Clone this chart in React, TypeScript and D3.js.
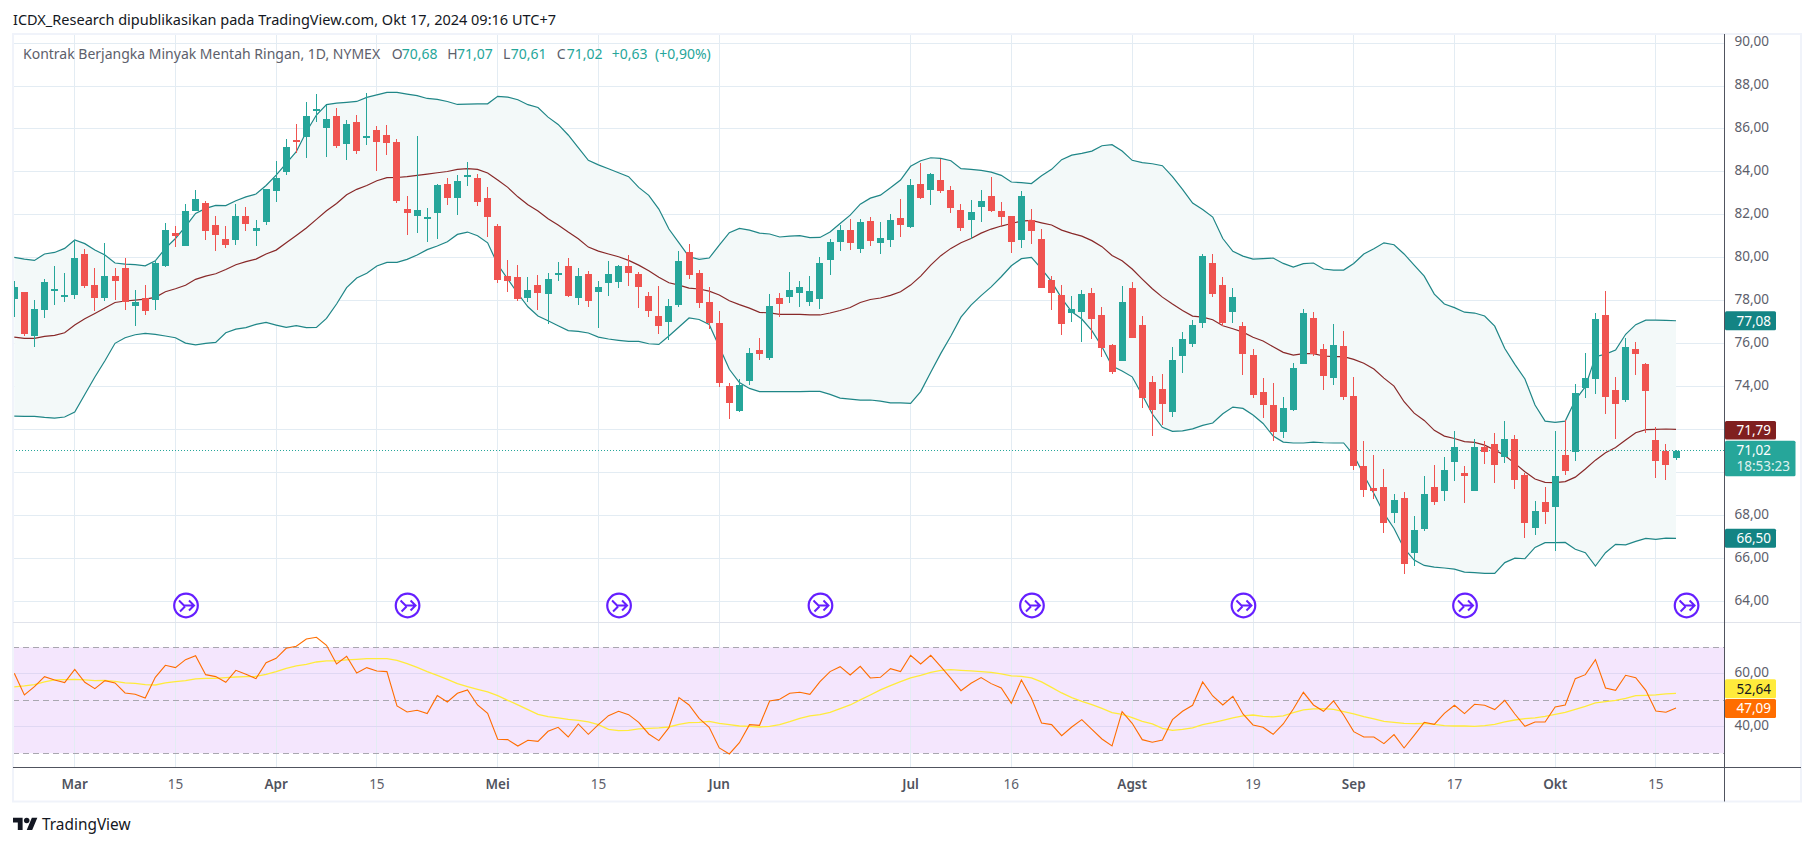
// Crude oil daily candles with Bollinger bands and an RSI pane, TradingView style.
import { useEffect, useRef } from "react";
import * as d3 from "d3";

const opens = [78.09,78.41,76.36,77.57,78.45,78.17,78.27,80.18,78.74,78.13,79.15,79.52,77.75,78.13,78.03,79.62,81.15,80.55,82.18,82.55,81.53,80.87,80.83,81.95,81.25,81.66,83.11,83.99,85.48,85.62,86.83,86.04,86.60,85.30,86.32,85.58,85.95,85.72,85.39,82.27,81.94,81.80,82.08,83.43,82.78,83.81,83.71,82.78,81.48,79.15,79.10,78.13,78.73,78.31,79.24,79.62,78.13,79.24,78.41,78.83,78.87,79.62,79.24,78.22,77.29,77.01,77.80,80.27,79.29,77.94,76.96,74.03,72.87,74.26,75.71,75.33,78.13,78.17,78.36,77.94,78.08,79.90,80.73,81.29,80.41,81.71,80.69,80.83,81.85,81.43,83.43,83.15,83.62,83.15,82.22,81.76,82.36,82.88,82.18,81.94,80.83,81.76,80.87,78.96,78.27,77.43,77.47,78.36,77.33,75.94,75.19,78.59,76.87,74.22,73.89,72.82,75.43,75.99,76.96,79.76,78.73,77.47,76.82,75.47,73.75,73.15,71.89,72.91,75.05,77.20,75.75,74.40,75.89,73.56,70.31,69.28,69.33,68.12,68.82,66.26,67.37,69.33,69.14,70.49,69.98,69.14,71.19,71.33,70.72,71.56,69.89,67.42,68.63,68.40,70.82,70.96,73.94,74.36,77.33,73.84,73.38,75.75,75.05,71.52,71.00,70.68];
const highs = [78.92,78.41,78.03,79.00,79.62,79.30,80.83,80.41,79.52,80.69,79.52,79.99,78.50,78.74,79.90,81.60,81.48,82.50,83.15,82.64,81.95,81.48,82.50,82.36,81.76,83.20,84.50,85.53,86.23,87.25,87.62,87.11,86.97,86.41,86.65,87.67,86.13,86.18,85.53,82.88,85.67,82.32,83.43,83.71,83.85,84.46,83.90,83.29,81.57,79.90,79.66,79.10,79.20,79.29,79.80,79.99,79.52,79.38,78.92,79.85,79.66,80.13,79.34,78.41,78.69,78.08,80.31,80.64,79.43,78.64,77.52,74.17,74.36,75.80,76.26,78.31,78.36,79.34,78.92,79.15,80.04,80.87,81.53,81.80,81.80,81.90,81.66,82.04,82.74,83.67,84.41,83.95,84.60,83.34,82.50,82.69,83.15,83.76,82.60,81.94,83.11,82.27,81.34,79.15,78.73,78.22,78.50,78.59,77.71,75.99,78.69,78.87,77.29,74.50,74.59,75.85,76.54,77.10,80.18,80.18,79.10,78.59,77.01,75.75,74.40,74.17,73.52,75.10,77.61,77.47,75.99,76.92,76.59,74.45,71.47,70.82,70.17,69.00,69.09,67.98,69.84,70.35,70.72,71.94,70.31,71.56,71.47,71.84,72.40,71.75,69.98,68.68,69.33,71.94,72.45,74.12,75.57,77.43,78.45,74.45,76.26,76.08,75.10,72.12,71.33,71.07];
const lows = [77.25,76.36,75.86,77.21,77.82,77.96,78.09,78.61,77.54,78.00,78.03,77.57,76.82,77.33,77.57,79.57,80.50,80.55,82.18,80.83,80.31,80.45,80.59,81.25,80.55,81.53,82.60,83.85,84.88,84.64,86.32,84.69,85.11,84.55,84.83,85.25,84.04,84.78,82.55,81.06,81.15,80.73,80.87,82.46,81.99,83.34,82.41,80.97,78.83,78.41,77.99,77.94,77.57,76.92,78.92,78.17,77.80,77.71,76.73,78.22,78.59,78.69,77.66,77.24,76.45,76.17,77.71,79.01,77.66,76.68,73.98,72.49,72.82,74.08,75.24,75.24,77.24,77.89,77.71,77.75,77.61,79.20,80.31,80.36,80.22,80.55,80.18,80.50,80.97,81.39,82.74,82.46,83.01,82.08,81.25,80.87,81.66,82.13,81.48,80.22,80.45,80.64,78.59,77.57,76.40,77.01,76.08,76.22,75.38,74.59,75.19,76.26,73.01,71.70,72.21,72.59,74.64,75.85,76.73,78.17,76.82,76.96,74.54,73.47,72.54,71.47,71.61,72.87,75.05,75.43,73.84,74.08,73.38,70.12,68.86,68.77,67.19,67.65,65.28,65.65,67.28,68.49,68.68,69.61,68.58,69.14,70.40,69.51,70.45,69.23,66.95,67.09,67.60,66.35,69.89,70.54,73.47,73.66,72.73,71.56,73.29,74.54,71.84,69.75,69.65,70.61];
const closes = [78.64,76.45,77.61,78.87,78.55,78.27,79.99,78.69,78.13,79.15,78.92,77.94,77.94,77.52,79.76,81.29,81.01,82.18,82.74,81.25,81.06,80.59,81.95,81.57,81.39,83.20,83.71,85.16,85.44,86.60,86.93,86.46,85.20,86.23,84.97,85.67,85.39,85.34,82.64,82.08,82.22,81.90,83.39,82.78,83.57,83.85,82.60,81.90,78.96,78.92,78.08,78.50,78.36,79.01,79.29,78.22,79.15,77.99,78.64,79.24,79.62,79.29,78.64,77.52,76.82,77.75,79.85,79.20,77.89,76.96,74.17,73.24,74.08,75.57,75.52,77.75,77.85,78.50,78.64,78.45,79.76,80.73,81.29,80.69,81.66,80.78,80.92,81.76,81.53,83.39,82.78,83.90,83.11,82.32,81.39,82.13,82.64,82.18,81.90,80.73,82.88,81.25,78.59,78.36,76.92,77.61,78.31,77.15,75.80,74.68,77.94,76.26,73.47,72.91,73.19,75.24,76.22,76.87,80.08,78.31,76.96,78.17,75.52,73.61,73.15,71.89,73.01,74.87,77.43,75.52,74.50,75.94,73.52,70.31,69.19,69.14,67.65,68.72,65.74,67.33,69.00,68.63,70.12,71.19,69.84,71.19,70.96,70.35,71.56,69.65,67.65,68.21,68.16,69.84,70.07,73.70,74.40,77.15,73.52,73.19,75.85,75.52,73.80,70.54,70.35,71.02];

const bbUpper = [80.02,79.94,79.88,80.18,80.25,80.44,80.83,80.66,80.36,80.13,79.76,79.71,79.68,79.63,79.86,80.44,80.90,81.45,82.07,82.30,82.44,82.43,82.66,82.84,82.97,83.37,83.85,84.40,84.94,85.87,86.65,87.13,87.20,87.24,87.28,87.47,87.59,87.70,87.70,87.62,87.55,87.42,87.38,87.28,87.14,87.16,87.17,87.17,87.52,87.48,87.36,87.13,87.00,86.55,86.21,85.72,85.13,84.54,84.33,84.15,83.96,83.78,83.28,82.91,82.27,81.34,80.70,80.05,79.93,79.99,80.59,81.17,81.37,81.29,81.15,81.11,80.97,81.01,81.03,80.94,80.95,81.20,81.60,81.99,82.50,82.78,82.92,83.26,83.62,84.26,84.52,84.66,84.63,84.52,84.15,84.12,84.07,83.99,83.84,83.53,83.50,83.46,83.82,84.12,84.57,84.78,84.86,84.97,85.22,85.27,84.97,84.54,84.43,84.38,84.29,83.78,83.19,82.55,82.25,81.90,80.90,80.30,80.08,79.94,79.96,79.99,79.74,79.57,79.73,79.76,79.48,79.43,79.43,79.74,80.18,80.42,80.70,80.61,80.18,79.66,79.15,78.31,77.85,77.68,77.47,77.43,77.29,76.82,75.78,75.04,74.36,73.15,72.40,72.34,72.40,73.38,74.00,75.40,75.52,75.71,76.44,76.89,77.10,77.10,77.09,77.07];
const bbBasis = [76.31,76.25,76.25,76.34,76.39,76.51,76.87,77.16,77.41,77.66,77.92,77.99,78.03,78.08,78.16,78.42,78.56,78.72,79.00,79.15,79.26,79.46,79.68,79.82,79.94,80.18,80.36,80.70,81.04,81.39,81.79,82.19,82.53,82.94,83.19,83.37,83.59,83.73,83.74,83.78,83.84,83.90,83.96,84.02,84.12,84.15,84.12,83.95,83.62,83.28,82.84,82.47,82.18,81.82,81.53,81.20,80.89,80.50,80.31,80.18,80.05,79.88,79.66,79.40,79.10,78.84,78.73,78.59,78.55,78.45,78.27,78.00,77.82,77.66,77.46,77.44,77.37,77.37,77.37,77.34,77.34,77.43,77.55,77.69,77.92,78.06,78.13,78.25,78.42,78.73,79.15,79.66,80.10,80.44,80.70,80.90,81.15,81.34,81.48,81.60,81.71,81.74,81.63,81.53,81.29,81.14,81.01,80.80,80.52,80.11,79.86,79.48,79.01,78.56,78.17,77.85,77.55,77.29,77.24,77.12,76.84,76.70,76.54,76.30,76.13,75.86,75.60,75.47,75.54,75.54,75.43,75.40,75.40,75.27,75.09,74.82,74.40,74.03,73.30,72.77,72.43,71.97,71.70,71.59,71.44,71.41,71.28,71.05,70.80,70.43,70.04,69.70,69.55,69.53,69.58,69.79,70.17,70.58,70.93,71.17,71.52,71.86,72.00,72.01,72.03,72.01];
const bbLower = [72.63,72.62,72.62,72.57,72.54,72.59,72.82,73.64,74.45,75.21,76.02,76.28,76.42,76.48,76.44,76.36,76.28,76.03,75.95,76.02,76.06,76.51,76.68,76.75,76.90,76.99,76.87,76.76,76.84,76.75,76.76,77.18,77.85,78.61,79.06,79.28,79.62,79.79,79.79,79.93,80.13,80.38,80.55,80.75,81.09,81.20,81.03,80.70,79.69,79.01,78.34,77.72,77.29,77.07,76.84,76.61,76.58,76.50,76.31,76.22,76.16,76.11,76.11,76.00,75.97,76.36,76.78,77.20,77.13,76.90,75.86,74.81,74.19,73.92,73.77,73.77,73.77,73.77,73.77,73.78,73.78,73.64,73.47,73.42,73.38,73.38,73.33,73.25,73.25,73.22,73.77,74.67,75.55,76.36,77.24,77.80,78.24,78.65,79.12,79.63,79.96,80.02,79.49,78.89,78.11,77.49,77.15,76.61,75.86,74.96,74.73,74.46,73.61,72.73,72.11,71.92,71.94,72.04,72.20,72.31,72.74,73.05,72.99,72.68,72.29,71.70,71.42,71.38,71.38,71.42,71.39,71.38,71.38,70.82,69.89,69.03,68.10,67.40,66.47,65.93,65.68,65.60,65.56,65.51,65.37,65.34,65.31,65.31,65.81,66.02,65.99,66.52,66.74,66.74,66.75,66.43,66.27,65.65,66.27,66.66,66.64,66.80,66.94,66.89,66.95,66.94];

const rsi = [60.19,52.01,55.16,58.93,57.67,56.67,61.70,56.79,54.40,57.42,56.54,52.77,52.26,50.88,58.68,63.20,62.33,65.35,66.85,59.68,58.93,56.79,61.32,59.81,58.17,64.21,65.85,69.62,70.38,73.14,73.77,70.75,63.71,66.60,60.31,62.33,61.07,60.82,47.86,45.60,46.22,44.97,51.76,49.37,52.64,53.90,48.24,45.09,35.28,35.15,32.76,34.90,34.52,38.30,39.81,36.16,41.07,37.17,40.82,44.21,45.85,44.59,41.70,37.29,34.78,39.68,51.00,48.24,43.21,39.81,32.01,29.74,34.02,40.82,40.56,49.75,50.37,52.64,53.02,52.26,57.04,60.82,62.70,59.56,62.83,58.43,58.68,61.95,60.82,66.98,63.71,66.98,62.70,58.30,53.65,56.41,58.55,56.29,54.65,48.87,57.67,50.75,41.44,40.82,36.66,39.93,42.70,39.05,35.41,32.76,45.72,41.32,35.15,34.15,35.03,42.70,45.85,48.11,56.92,51.63,48.24,51.51,44.84,40.69,39.81,37.17,41.07,46.73,53.02,48.24,45.85,49.75,44.46,38.17,36.16,36.16,33.65,37.04,32.01,36.79,41.70,40.94,45.09,48.11,44.97,48.49,48.11,46.48,49.97,44.84,40.19,41.82,41.82,47.48,48.24,58.17,59.68,65.35,54.65,53.77,59.43,58.55,53.77,45.97,45.47,47.09];
const rsiMa = [55.03,55.41,55.91,56.92,57.67,57.80,57.92,57.67,57.42,57.55,57.17,56.54,56.41,55.91,55.78,56.54,57.04,57.42,58.05,58.30,58.30,58.55,58.80,58.93,59.06,59.81,60.82,62.07,62.95,63.58,64.46,64.84,64.84,65.22,65.47,65.72,65.72,65.72,65.09,63.84,62.45,60.82,59.43,57.92,56.29,55.16,54.15,53.14,51.76,50.00,48.24,46.48,44.71,43.83,43.33,42.83,42.45,41.82,40.82,39.05,38.55,38.68,39.18,39.43,39.56,39.93,40.94,41.57,41.70,42.07,41.32,40.82,40.31,40.19,39.93,40.19,40.82,41.95,43.21,44.09,44.59,45.47,46.85,48.24,50.13,52.01,53.90,55.53,57.04,58.43,59.43,60.57,61.32,61.57,61.32,61.07,60.82,60.57,59.94,59.18,59.06,58.43,56.92,54.90,52.77,51.00,49.62,48.36,46.98,45.34,44.71,43.46,42.07,41.07,39.43,38.68,39.05,39.56,40.82,41.57,42.45,43.33,44.09,44.46,43.96,43.71,44.09,45.34,46.35,46.73,46.85,46.60,45.72,44.84,43.83,42.95,42.07,41.70,41.32,41.19,41.32,40.94,40.44,40.31,40.31,40.19,40.44,40.94,41.82,42.57,43.08,43.33,43.96,44.71,45.47,46.60,47.73,48.99,49.49,50.00,50.75,51.76,51.89,52.01,52.39,52.64];

const priceTicks = [64, 66, 68, 70, 72, 74, 76, 78, 80, 82, 84, 86, 88, 90];
// 70 and 72 sit behind the value tags, so they get a grid line but no label
const priceLabels = [64, 66, 68, 74, 76, 78, 80, 82, 84, 86, 88, 90];
const rsiTicks = [40, 60];
const rsiDashed = [30, 50, 70];
const timeTickBars = [6, 16, 26, 36, 48, 58, 70, 89, 99, 111, 123, 133, 143, 153, 163];
const timeTickLabels = ["Mar", "15", "Apr", "15", "Mei", "15", "Jun", "Jul", "16", "Agst", "19", "Sep", "17", "Okt", "15"];
const rollBars = [17, 39, 60, 80, 101, 122, 144, 166];

const UP = "#26a69a";
const DOWN = "#ef5350";
const BAND = "#1f8687";
const BASIS = "#882929";
const GRID = "#e3ecf3";
const LABEL = "#5d606b";
const FONT = "'Noto Sans', 'Open Sans', sans-serif";

const W = 1814;
const H = 846;
const LEFT = 13;
const AXIS_X = 1724.5;
const RIGHT = 1801;
const TOP = 34;
const PANE_BOTTOM = 622;
const RSI_BOTTOM = 767.5;
const BOTTOM = 801.5;

export default function App() {
  const svgRef = useRef<SVGSVGElement | null>(null);

  useEffect(() => {
    const svg = d3.select(svgRef.current);
    svg.selectAll("*").remove();

    const x = d3.scaleLinear().domain([0, 165]).range([14.3, 1676]);
    const y = d3.scaleLinear().domain([64, 88]).range([601.5, 86]);
    const yRsi = d3.scaleLinear().domain([30, 70]).range([753.3, 647.3]);
    const crisp = (v: number) => Math.floor(v) + 0.5;
    const idx = d3.range(opens.length);

    svg.append("rect").attr("width", W).attr("height", H).attr("fill", "#fff");

    const defs = svg.append("defs");
    defs.append("clipPath").attr("id", "main").append("rect")
      .attr("x", LEFT + 1).attr("y", TOP).attr("width", AXIS_X - LEFT - 1).attr("height", PANE_BOTTOM - TOP);
    defs.append("clipPath").attr("id", "lower").append("rect")
      .attr("x", LEFT + 1).attr("y", PANE_BOTTOM).attr("width", AXIS_X - LEFT - 1).attr("height", RSI_BOTTOM - PANE_BOTTOM);

    // RSI background sits under the grid
    svg.append("rect")
      .attr("x", LEFT).attr("y", yRsi(70)).attr("width", AXIS_X - LEFT).attr("height", yRsi(30) - yRsi(70))
      .attr("fill", "#f4e6fd");

    // grid
    svg.append("g").selectAll("line").data(timeTickBars).join("line")
      .attr("x1", (d) => crisp(x(d))).attr("x2", (d) => crisp(x(d)))
      .attr("y1", TOP).attr("y2", RSI_BOTTOM)
      .attr("stroke", GRID);
    svg.append("g").selectAll("line").data(priceTicks).join("line")
      .attr("x1", LEFT).attr("x2", AXIS_X)
      .attr("y1", (d) => crisp(y(d))).attr("y2", (d) => crisp(y(d)))
      .attr("stroke", GRID);
    svg.append("g").selectAll("line").data(rsiTicks).join("line")
      .attr("x1", LEFT).attr("x2", AXIS_X)
      .attr("y1", (d) => crisp(yRsi(d))).attr("y2", (d) => crisp(yRsi(d)))
      .attr("stroke", "#e0d8f3");
    svg.append("g").selectAll("line").data(rsiDashed).join("line")
      .attr("x1", LEFT).attr("x2", AXIS_X)
      .attr("y1", (d) => crisp(yRsi(d))).attr("y2", (d) => crisp(yRsi(d)))
      .attr("stroke", "#a9a7b0").attr("stroke-dasharray", "6 4");

    // Bollinger band
    const main = svg.append("g").attr("clip-path", "url(#main)");
    main.append("path")
      .attr("d", d3.area<number>().x((i) => x(i)).y0((i) => y(bbLower[i])).y1((i) => y(bbUpper[i]))(idx))
      .attr("fill", "#f3f9f9");
    const bandLine = (s: number[]) => d3.line<number>().x((i) => x(i)).y((i) => y(s[i]))(idx);
    [bbUpper, bbLower].forEach((s) => {
      main.append("path").attr("d", bandLine(s)).attr("fill", "none").attr("stroke", BAND).attr("stroke-width", 1.2);
    });
    main.append("path").attr("d", bandLine(bbBasis)).attr("fill", "none").attr("stroke", BASIS).attr("stroke-width", 1.2);

    // last price line
    main.append("line")
      .attr("x1", LEFT).attr("x2", AXIS_X)
      .attr("y1", crisp(y(closes[165]))).attr("y2", crisp(y(closes[165])))
      .attr("stroke", UP).attr("stroke-dasharray", "1 2");

    // candles
    const candle = main.append("g").selectAll("g").data(idx).join("g")
      .attr("fill", (i) => (closes[i] >= opens[i] ? UP : DOWN))
      .attr("shape-rendering", "crispEdges");
    candle.append("rect")
      .attr("x", (i) => Math.floor(x(i)))
      .attr("y", (i) => Math.round(y(highs[i])))
      .attr("width", 1)
      .attr("height", (i) => Math.round(y(lows[i])) - Math.round(y(highs[i])));
    candle.append("rect")
      .attr("x", (i) => Math.floor(x(i)) - 3)
      .attr("y", (i) => Math.round(y(Math.max(opens[i], closes[i]))))
      .attr("width", 7)
      .attr("height", (i) =>
        Math.max(2, Math.round(y(Math.min(opens[i], closes[i]))) - Math.round(y(Math.max(opens[i], closes[i]))))
      );

    // contract roll markers
    const roll = svg.append("g").selectAll("g").data(rollBars).join("g")
      .attr("transform", (d) => `translate(${x(d) + 0.5},605.5)`)
      .attr("fill", "none").attr("stroke", "#651fff");
    roll.append("circle").attr("r", 11.8).attr("fill", "#fff").attr("stroke-width", 2.2);
    roll.append("path").attr("d", "M-7,-5 L-2,0 L7,0 M-6,6 L-1,1 M3,-5 L8,0 L3,5").attr("stroke-width", 2);

    // RSI lines
    const lower = svg.append("g").attr("clip-path", "url(#lower)");
    const rsiLine = (s: number[]) => d3.line<number>().x((i) => x(i)).y((i) => yRsi(s[i]))(idx);
    lower.append("path").attr("d", rsiLine(rsiMa)).attr("fill", "none").attr("stroke", "#ffeb3b").attr("stroke-width", 1.3);
    lower.append("path").attr("d", rsiLine(rsi)).attr("fill", "none").attr("stroke", "#ff6d00").attr("stroke-width", 1.1);

    // frame and axis lines
    svg.append("rect")
      .attr("x", LEFT).attr("y", TOP).attr("width", RIGHT - LEFT).attr("height", BOTTOM - TOP)
      .attr("fill", "none").attr("stroke", "#f0f3fa").attr("stroke-width", 2);
    svg.append("line").attr("x1", LEFT).attr("x2", RIGHT).attr("y1", PANE_BOTTOM + 0.5).attr("y2", PANE_BOTTOM + 0.5)
      .attr("stroke", "#e0e3eb");
    svg.append("line").attr("x1", LEFT).attr("x2", RIGHT).attr("y1", RSI_BOTTOM).attr("y2", RSI_BOTTOM)
      .attr("stroke", "#50535e");
    svg.append("line").attr("x1", AXIS_X).attr("x2", AXIS_X).attr("y1", TOP).attr("y2", BOTTOM)
      .attr("stroke", "#50535e");

    // axes
    const comma = (v: number) => v.toFixed(2).replace(".", ",");
    const styleAxis = (g: d3.Selection<SVGGElement, unknown, null, undefined>) => {
      g.select(".domain").remove();
      g.selectAll("text").attr("fill", LABEL).attr("font-family", FONT).attr("font-size", 13.5);
    };
    svg.append("g").attr("transform", `translate(${AXIS_X},-1.5)`)
      .call(d3.axisRight(y).tickValues(priceLabels).tickSize(0).tickPadding(10).tickFormat((v) => comma(+v)))
      .call(styleAxis as any);
    svg.append("g").attr("transform", `translate(${AXIS_X},-1.5)`)
      .call(d3.axisRight(yRsi).tickValues(rsiTicks).tickSize(0).tickPadding(10).tickFormat((v) => comma(+v)))
      .call(styleAxis as any);

    svg.append("g").selectAll("text").data(timeTickBars).join("text")
      .attr("x", (d) => x(d)).attr("y", 789)
      .attr("text-anchor", "middle")
      .attr("font-family", FONT).attr("font-size", 13.5)
      .attr("fill", (_, i) => (isNaN(+timeTickLabels[i]) ? "#50535e" : LABEL))
      .attr("font-weight", (_, i) => (isNaN(+timeTickLabels[i]) ? 600 : 400))
      .text((_, i) => timeTickLabels[i]);

    // value tags on the axes
    const tag = (top: number, h: number, w: number, fill: string, color: string, lines: string[]) => {
      svg.append("rect").attr("x", AXIS_X + 0.5).attr("y", top).attr("width", w).attr("height", h).attr("rx", 1.5).attr("fill", fill);
      lines.forEach((t, i) => {
        svg.append("text").attr("x", AXIS_X + 12).attr("y", top + 14.3 + i * 16)
          .attr("font-family", FONT).attr("font-size", 13.5).attr("fill", color)
          .attr("opacity", i ? 0.85 : 1).text(t);
      });
    };
    tag(y(bbUpper[165]) - 9.5, 19, 51, "#138484", "#fff", ["77,08"]);
    tag(y(bbBasis[165]) - 8.5, 18.5, 51, "#801f1f", "#fff", ["71,79"]);
    tag(y(closes[165]) - 10, 35.5, 70.5, UP, "#fff", ["71,02", "18:53:23"]);
    tag(y(bbLower[165]) - 9.5, 19, 51, "#138484", "#fff", ["66,50"]);
    tag(yRsi(rsiMa[165]) - 14, 19, 51, "#ffeb3b", "#131722", ["52,64"]);
    tag(yRsi(rsi[165]) - 9, 19, 51, "#ff6d00", "#fff", ["47,09"]);

    // header text
    svg.append("text").attr("x", 13).attr("y", 25)
      .attr("font-family", FONT).attr("font-size", 14.5).attr("fill", "#131722")
      .text("ICDX_Research dipublikasikan pada TradingView.com, Okt 17, 2024 09:16 UTC+7");

    const legend: [number, string, string][] = [
      [23, "Kontrak Berjangka Minyak Mentah Ringan, 1D, NYMEX", LABEL],
      [391.7, "O", LABEL], [401.7, "70,68", UP],
      [447.3, "H", LABEL], [457, "71,07", UP],
      [503, "L", LABEL], [510.7, "70,61", UP],
      [556.7, "C", LABEL], [566.7, "71,02", UP],
      [611.7, "+0,63", UP], [655, "(+0,90%)", UP],
    ];
    svg.append("g").selectAll("text").data(legend).join("text")
      .attr("x", (d) => d[0]).attr("y", 58.5)
      .attr("font-family", FONT).attr("font-size", 14)
      .attr("fill", (d) => d[2])
      .text((d) => d[1]);

    // logo
    const logo = svg.append("g").attr("transform", "translate(13,815) scale(0.686)").attr("fill", "#131722");
    logo.append("path").attr("d", "M14 22H7V11H0V4h14v18zM28 22h-8l7.5-18h8L28 22z");
    logo.append("circle").attr("cx", 20).attr("cy", 8).attr("r", 4);
    svg.append("text").attr("x", 42).attr("y", 829.5)
      .attr("font-family", FONT).attr("font-size", 15.4).attr("fill", "#131722")
      .text("TradingView");
  }, []);

  return (
    <svg
      ref={svgRef}
      width={W}
      height={H}
      viewBox={`0 0 ${W} ${H}`}
      style={{ position: "absolute", left: 0, top: 0, display: "block" }}
    />
  );
}
